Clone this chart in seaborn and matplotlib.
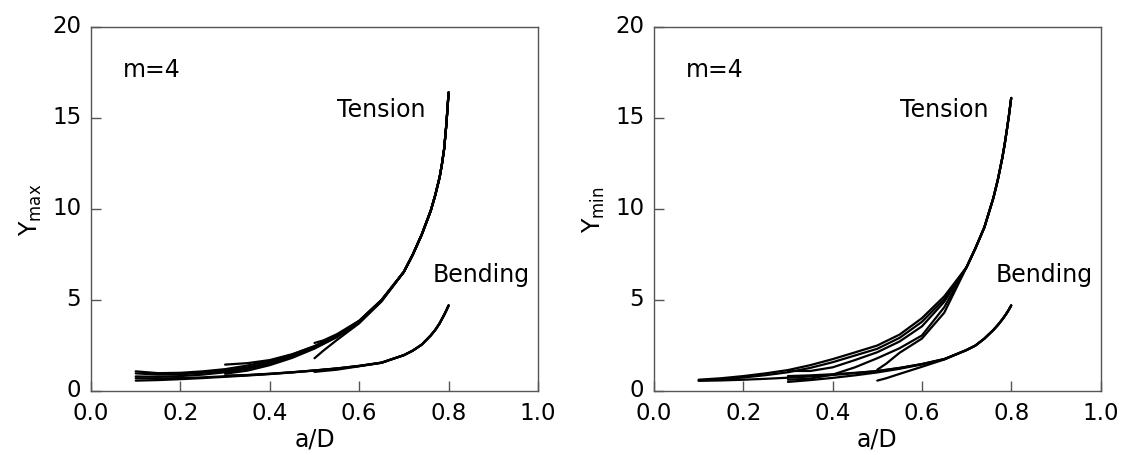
import matplotlib
matplotlib.use("Agg")
import matplotlib.pyplot as plt
import matplotlib.transforms as mtransforms
import pandas as pd
import seaborn as sns

# a/D sampling: the early part depends on the starting crack depth,
# the steep part near a/D = 0.8 is shared by all curves of one load case
X_HEAD_10 = [0.10, 0.15, 0.20, 0.25, 0.30, 0.35, 0.40, 0.45, 0.50, 0.55, 0.60, 0.65]
X_HEAD_30 = [0.30, 0.35, 0.40, 0.45, 0.50, 0.55, 0.60, 0.65]
X_HEAD_50 = [0.50, 0.52, 0.55, 0.60, 0.65]
X_TAIL = [0.70, 0.72, 0.74, 0.76, 0.77, 0.78, 0.785, 0.79, 0.795, 0.80]

# Y_max, tension
ymax_t10_a = [1.08, 0.98, 1.00, 1.08, 1.20, 1.40, 1.66, 2.00, 2.45, 3.05, 3.85, 5.00]
ymax_t10_b = [0.97, 0.90, 0.92, 1.00, 1.12, 1.30, 1.57, 1.93, 2.40, 3.00, 3.82, 4.98]
ymax_t10_c = [0.80, 0.78, 0.82, 0.90, 1.03, 1.22, 1.50, 1.87, 2.36, 2.98, 3.80, 4.96]
ymax_t30_a = [1.45, 1.53, 1.70, 2.02, 2.47, 3.06, 3.85, 5.00]
ymax_t30_b = [0.95, 1.12, 1.42, 1.82, 2.33, 2.96, 3.79, 4.95]
ymax_t50_a = [2.64, 2.78, 3.12, 3.86, 5.00]
ymax_t50_b = [1.80, 2.22, 2.80, 3.72, 4.92]
ymax_t_tail = [6.55, 7.50, 8.60, 9.90, 10.75, 11.75, 12.45, 13.30, 14.65, 16.40]

# Y_max, bending
ymax_b10_a = [0.70, 0.69, 0.71, 0.75, 0.81, 0.87, 0.94, 1.03, 1.13, 1.24, 1.38, 1.56]
ymax_b10_b = [0.57, 0.60, 0.65, 0.71, 0.78, 0.85, 0.93, 1.02, 1.12, 1.23, 1.37, 1.55]
ymax_b30_a = [0.85, 0.88, 0.95, 1.03, 1.13, 1.24, 1.38, 1.56]
ymax_b50_a = [1.05, 1.10, 1.17, 1.36, 1.55]
ymax_b_tail = [1.97, 2.22, 2.55, 3.05, 3.35, 3.72, 3.95, 4.18, 4.43, 4.70]

# Y_min, tension
ymin_t10_a = [0.62, 0.70, 0.82, 0.97, 1.15, 1.42, 1.75, 2.12, 2.50, 3.10, 4.00, 5.20]
ymin_t10_b = [0.58, 0.64, 0.74, 0.87, 1.03, 1.27, 1.58, 1.95, 2.32, 2.92, 3.80, 5.05]
ymin_t30_a = [1.10, 1.10, 1.30, 1.70, 2.13, 2.72, 3.55, 4.90]
ymin_t30_b = [0.62, 0.68, 0.90, 1.30, 1.80, 2.35, 3.05, 4.60]
ymin_t50_a = [1.17, 1.50, 2.10, 2.88, 4.30]
ymin_t_tail = [6.80, 7.85, 9.00, 10.60, 11.60, 12.80, 13.50, 14.30, 15.15, 16.10]

# Y_min, bending
ymin_b10_a = [0.56, 0.58, 0.62, 0.67, 0.73, 0.80, 0.88, 0.98, 1.10, 1.27, 1.48, 1.75]
ymin_b30_a = [0.50, 0.60, 0.72, 0.86, 1.02, 1.22, 1.46, 1.74]
ymin_b30_b = [0.82, 0.86, 0.92, 1.00, 1.09, 1.26, 1.48, 1.76]
ymin_b50_a = [0.57, 0.70, 0.94, 1.33, 1.73]
ymin_b_tail = [2.25, 2.50, 2.88, 3.35, 3.62, 3.93, 4.10, 4.28, 4.48, 4.70]

X_TICKS = [0.0, 0.2, 0.4, 0.6, 0.8, 1.0]
X_TICK_LABELS = ["0.0", "0.2", "0.4", "0.6", "0.8", "1.0"]
Y_TICKS = [0, 5, 10, 15, 20]
Y_TICK_LABELS = ["0", "5", "10", "15", "20"]


def long_frame(curves):
    rows = []
    for name, xs, ys in curves:
        for x, y in zip(xs, ys):
            rows.append((name, x, y))
    return pd.DataFrame(rows, columns=["curve", "a/D", "Y"])


def with_tail(name, x_head, y_head, y_tail):
    return (name, x_head + X_TAIL, y_head + y_tail)


ymax_df = long_frame([
    with_tail("t10a", X_HEAD_10, ymax_t10_a, ymax_t_tail),
    with_tail("t10b", X_HEAD_10, ymax_t10_b, ymax_t_tail),
    with_tail("t10c", X_HEAD_10, ymax_t10_c, ymax_t_tail),
    with_tail("t30a", X_HEAD_30, ymax_t30_a, ymax_t_tail),
    with_tail("t30b", X_HEAD_30, ymax_t30_b, ymax_t_tail),
    with_tail("t50a", X_HEAD_50, ymax_t50_a, ymax_t_tail),
    with_tail("t50b", X_HEAD_50, ymax_t50_b, ymax_t_tail),
    with_tail("b10a", X_HEAD_10, ymax_b10_a, ymax_b_tail),
    with_tail("b10b", X_HEAD_10, ymax_b10_b, ymax_b_tail),
    with_tail("b30a", X_HEAD_30, ymax_b30_a, ymax_b_tail),
    with_tail("b50a", X_HEAD_50, ymax_b50_a, ymax_b_tail),
])
ymin_df = long_frame([
    with_tail("t10a", X_HEAD_10, ymin_t10_a, ymin_t_tail),
    with_tail("t10b", X_HEAD_10, ymin_t10_b, ymin_t_tail),
    with_tail("t30a", X_HEAD_30, ymin_t30_a, ymin_t_tail),
    with_tail("t30b", X_HEAD_30, ymin_t30_b, ymin_t_tail),
    with_tail("t50a", X_HEAD_50, ymin_t50_a, ymin_t_tail),
    with_tail("b10a", X_HEAD_10, ymin_b10_a, ymin_b_tail),
    with_tail("b30a", X_HEAD_30, ymin_b30_a, ymin_b_tail),
    with_tail("b30b", X_HEAD_30, ymin_b30_b, ymin_b_tail),
    with_tail("b50a", X_HEAD_50, ymin_b50_a, ymin_b_tail),
])

sns.set_theme(style="ticks")
plt.rcParams["font.family"] = ["DejaVu Sans"]
plt.rcParams["mathtext.default"] = "regular"
plt.rcParams["text.color"] = "black"
plt.rcParams["axes.labelcolor"] = "black"

fig = plt.figure(figsize=(11.26, 4.56), dpi=100)
ax_max = fig.add_axes([91 / 1126, 64 / 456, 447 / 1126, 364 / 456])
ax_min = fig.add_axes([654 / 1126, 64 / 456, 446.5 / 1126, 364 / 456])

SPINE = "#555555"
TEXT_SIZE = 17
TICK_SIZE = 16.5
# nudge the y tick labels up a little so "0" clears the "0.0" below it
lift = mtransforms.ScaledTranslation(0, 4 / 100, fig.dpi_scale_trans)

for ax, df, ylab in ((ax_max, ymax_df, "Y$_{max}$"), (ax_min, ymin_df, "Y$_{min}$")):
    sns.lineplot(data=df, x="a/D", y="Y", units="curve", estimator=None,
                 sort=False, color="black", linewidth=1.6, legend=False, ax=ax)
    ax.set_xlim(0, 1)
    ax.set_ylim(0, 20)
    ax.set_xticks(X_TICKS, X_TICK_LABELS)
    ax.set_yticks(Y_TICKS, Y_TICK_LABELS)
    ax.tick_params(direction="in", length=7, width=1, color=SPINE,
                   labelcolor="black", labelsize=TICK_SIZE, pad=7,
                   top=False, right=False)
    for lbl in ax.get_yticklabels():
        lbl.set_transform(lbl.get_transform() + lift)
    for sp in ax.spines.values():
        sp.set_color(SPINE)
        sp.set_linewidth(1.0)
    ax.set_xlabel("a/D", fontsize=TEXT_SIZE, labelpad=2)
    ax.set_ylabel(ylab, fontsize=TEXT_SIZE, labelpad=6)
    ax.text(0.072, 17.3, "m=4", fontsize=TEXT_SIZE)
    ax.text(0.55, 15.1, "Tension", fontsize=TEXT_SIZE)
    ax.text(0.764, 6.07, "Bending", fontsize=TEXT_SIZE)

fig.savefig("out.png", dpi=100)
